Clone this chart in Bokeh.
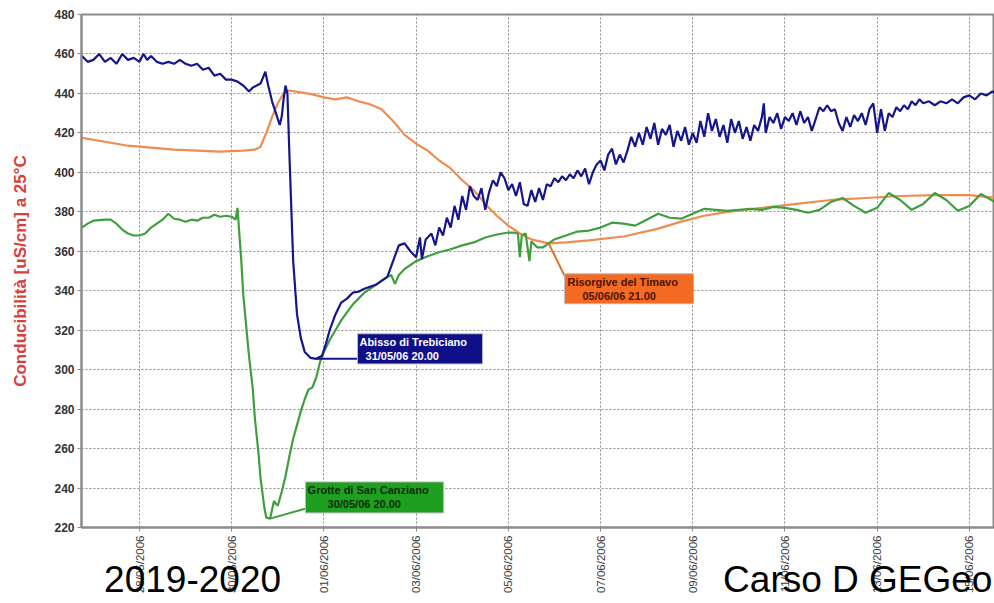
import math
import pandas as pd
from bokeh.plotting import figure
from bokeh.models import FixedTicker, DatetimeTickFormatter, Range1d
from bokeh.core.properties import value
from bokeh.embed import file_html
from bokeh.resources import INLINE

# ---------------- data ----------------
blue_time = [
    "2006-05-26 18:00", "2006-05-26 21:00", "2006-05-27 00:00", "2006-05-27 03:00", "2006-05-27 06:00",
    "2006-05-27 09:00", "2006-05-27 12:00", "2006-05-27 15:00", "2006-05-27 18:00", "2006-05-27 21:00",
    "2006-05-28 00:00", "2006-05-28 02:00", "2006-05-28 04:00", "2006-05-28 06:00", "2006-05-28 09:00",
    "2006-05-28 12:00", "2006-05-28 15:00", "2006-05-28 18:00", "2006-05-28 21:00", "2006-05-29 00:00",
    "2006-05-29 03:00", "2006-05-29 06:00", "2006-05-29 09:00", "2006-05-29 12:00", "2006-05-29 15:00",
    "2006-05-29 18:00", "2006-05-29 21:00", "2006-05-30 00:00", "2006-05-30 03:00", "2006-05-30 06:00",
    "2006-05-30 09:00", "2006-05-30 11:00", "2006-05-30 13:00", "2006-05-30 15:00", "2006-05-30 17:30",
    "2006-05-30 19:00", "2006-05-30 21:00", "2006-05-30 23:00", "2006-05-31 01:00", "2006-05-31 02:00",
    "2006-05-31 03:00", "2006-05-31 04:00", "2006-05-31 05:00", "2006-05-31 06:00", "2006-05-31 08:00",
    "2006-05-31 10:00", "2006-05-31 12:00", "2006-05-31 14:00", "2006-05-31 17:00", "2006-05-31 20:00",
    "2006-05-31 23:00", "2006-06-01 01:00", "2006-06-01 03:00", "2006-06-01 06:00", "2006-06-01 09:00",
    "2006-06-01 12:00", "2006-06-01 15:00", "2006-06-01 18:00", "2006-06-01 21:00", "2006-06-02 00:00",
    "2006-06-02 03:00", "2006-06-02 06:00", "2006-06-02 09:00", "2006-06-02 12:00", "2006-06-02 15:00",
    "2006-06-02 18:00", "2006-06-02 21:00", "2006-06-03 00:00", "2006-06-03 02:00", "2006-06-03 03:00",
    "2006-06-03 05:00", "2006-06-03 08:00", "2006-06-03 10:00", "2006-06-03 12:00", "2006-06-03 14:00",
    "2006-06-03 16:00", "2006-06-03 18:00", "2006-06-03 20:00", "2006-06-03 22:00", "2006-06-04 00:00",
    "2006-06-04 02:00", "2006-06-04 04:00", "2006-06-04 06:00", "2006-06-04 08:00", "2006-06-04 10:00",
    "2006-06-04 12:00", "2006-06-04 14:00", "2006-06-04 16:00", "2006-06-04 18:00", "2006-06-04 20:00",
    "2006-06-04 22:00", "2006-06-05 00:00", "2006-06-05 02:00", "2006-06-05 04:00", "2006-06-05 06:00",
    "2006-06-05 08:00", "2006-06-05 10:00", "2006-06-05 12:00", "2006-06-05 14:00", "2006-06-05 16:00",
    "2006-06-05 18:00", "2006-06-05 20:00", "2006-06-05 22:00", "2006-06-06 00:00", "2006-06-06 02:00",
    "2006-06-06 04:00", "2006-06-06 06:00", "2006-06-06 08:00", "2006-06-06 10:00", "2006-06-06 12:00",
    "2006-06-06 14:00", "2006-06-06 16:00", "2006-06-06 18:00", "2006-06-06 20:00", "2006-06-06 22:00",
    "2006-06-07 00:00", "2006-06-07 02:00", "2006-06-07 04:00", "2006-06-07 06:00", "2006-06-07 08:00",
    "2006-06-07 10:00", "2006-06-07 12:00", "2006-06-07 14:00", "2006-06-07 16:00", "2006-06-07 18:00",
    "2006-06-07 20:00", "2006-06-07 22:00", "2006-06-08 00:00", "2006-06-08 02:00", "2006-06-08 04:00",
    "2006-06-08 06:00", "2006-06-08 08:00", "2006-06-08 10:00", "2006-06-08 12:00", "2006-06-08 14:00",
    "2006-06-08 16:00", "2006-06-08 18:00", "2006-06-08 20:00", "2006-06-08 22:00", "2006-06-09 00:00",
    "2006-06-09 02:00", "2006-06-09 04:00", "2006-06-09 06:00", "2006-06-09 08:00", "2006-06-09 10:00",
    "2006-06-09 12:00", "2006-06-09 14:00", "2006-06-09 16:00", "2006-06-09 18:00", "2006-06-09 20:00",
    "2006-06-09 22:00", "2006-06-10 00:00", "2006-06-10 02:00", "2006-06-10 04:00", "2006-06-10 06:00",
    "2006-06-10 08:00", "2006-06-10 10:00", "2006-06-10 12:00", "2006-06-10 13:00", "2006-06-10 14:00",
    "2006-06-10 16:00", "2006-06-10 18:00", "2006-06-10 20:00", "2006-06-10 22:00", "2006-06-11 00:00",
    "2006-06-11 02:00", "2006-06-11 04:00", "2006-06-11 06:00", "2006-06-11 08:00", "2006-06-11 10:00",
    "2006-06-11 12:00", "2006-06-11 14:00", "2006-06-11 16:00", "2006-06-11 18:00", "2006-06-11 20:00",
    "2006-06-11 22:00", "2006-06-12 00:00", "2006-06-12 02:00", "2006-06-12 04:00", "2006-06-12 06:00",
    "2006-06-12 08:00", "2006-06-12 10:00", "2006-06-12 12:00", "2006-06-12 14:00", "2006-06-12 16:00",
    "2006-06-12 18:00", "2006-06-12 20:00", "2006-06-12 22:00", "2006-06-13 00:00", "2006-06-13 02:00",
    "2006-06-13 04:00", "2006-06-13 06:00", "2006-06-13 08:00", "2006-06-13 10:00", "2006-06-13 12:00",
    "2006-06-13 14:00", "2006-06-13 16:00", "2006-06-13 18:00", "2006-06-13 20:00", "2006-06-13 22:00",
    "2006-06-14 00:00", "2006-06-14 03:00", "2006-06-14 06:00", "2006-06-14 09:00", "2006-06-14 12:00",
    "2006-06-14 15:00", "2006-06-14 18:00", "2006-06-14 21:00", "2006-06-15 00:00", "2006-06-15 03:00",
    "2006-06-15 06:00", "2006-06-15 09:00", "2006-06-15 12:00", "2006-06-15 15:00",
]
blue_val = [
    459, 456, 457, 460, 456,
    458, 455, 460, 457, 458,
    456, 460, 457, 459, 456,
    455, 456, 455, 457, 455,
    454, 455, 452, 453, 449,
    450, 447, 447, 446, 444,
    441, 443, 444, 445, 451,
    444, 436, 430, 424, 428,
    437, 444, 440, 410, 355,
    328, 316, 309, 306, 305.5,
    307, 313, 320, 328, 334,
    336, 339, 339.5, 341, 342,
    343, 345, 347, 355, 363,
    364, 360, 357, 367, 356,
    366, 369, 363, 372, 368,
    377, 372, 383, 376, 388,
    381, 393, 388, 386, 392,
    381, 390, 396, 393, 400,
    397, 391, 394, 388, 395,
    384, 383, 391, 385, 392,
    386, 394, 393, 397, 395,
    398, 396, 399, 397, 401,
    398, 402, 394, 400, 404,
    406, 401, 409, 412, 404,
    409, 405, 411, 418, 413,
    420, 414, 423, 417, 425,
    414, 422, 419, 424, 413,
    421, 416, 423, 414, 420,
    415, 426, 418, 430, 421,
    427, 418, 424, 415, 427,
    420, 426, 417, 423, 416,
    424, 421, 428, 435, 420,
    428, 425, 430, 422, 428,
    426, 430, 424, 431, 425,
    428, 421, 427, 433, 431,
    434, 431, 432, 425, 421,
    428, 423, 429, 426, 430,
    424, 432, 435, 420, 432,
    421, 430, 428, 433, 431,
    434, 432, 436, 434, 437,
    435, 436, 434, 436, 435,
    437, 435, 438, 439, 437,
    440, 439, 441, 439,
]

orange_time = [
    "2006-05-26 18:00", "2006-05-27 06:00", "2006-05-27 18:00", "2006-05-28 06:00", "2006-05-28 18:00",
    "2006-05-29 06:00", "2006-05-29 18:00", "2006-05-30 06:00", "2006-05-30 12:00", "2006-05-30 15:00",
    "2006-05-30 18:00", "2006-05-30 21:00", "2006-05-31 00:00", "2006-05-31 03:00", "2006-05-31 06:00",
    "2006-05-31 12:00", "2006-05-31 18:00", "2006-06-01 00:00", "2006-06-01 06:00", "2006-06-01 12:00",
    "2006-06-01 18:00", "2006-06-02 00:00", "2006-06-02 06:00", "2006-06-02 12:00", "2006-06-02 18:00",
    "2006-06-03 00:00", "2006-06-03 06:00", "2006-06-03 12:00", "2006-06-03 18:00", "2006-06-04 00:00",
    "2006-06-04 06:00", "2006-06-04 12:00", "2006-06-04 18:00", "2006-06-05 00:00", "2006-06-05 06:00",
    "2006-06-05 12:00", "2006-06-05 21:00", "2006-06-06 06:00", "2006-06-06 18:00", "2006-06-07 12:00",
    "2006-06-08 06:00", "2006-06-08 18:00", "2006-06-09 06:00", "2006-06-09 18:00", "2006-06-10 12:00",
    "2006-06-11 06:00", "2006-06-12 00:00", "2006-06-12 18:00", "2006-06-13 12:00", "2006-06-14 06:00",
    "2006-06-15 00:00", "2006-06-15 15:00",
]
orange_val = [
    417.5, 415.5, 413.5, 412.5, 411.5,
    411, 410.5, 411, 411.5, 413,
    420, 428, 435, 440, 441.5,
    440.5, 439.5, 438, 437, 438,
    436, 434.5, 432, 426, 419,
    414.5, 411, 406, 402, 396,
    391, 384, 378, 373, 369,
    366, 364, 364.5, 365.5, 367.5,
    371.5, 375, 378, 380, 382,
    384, 386, 387, 388, 388.5,
    388.5, 387,
]

green_time = [
    "2006-05-26 18:00", "2006-05-26 21:00", "2006-05-27 00:00", "2006-05-27 06:00", "2006-05-27 09:00",
    "2006-05-27 12:00", "2006-05-27 15:00", "2006-05-27 18:00", "2006-05-27 21:00", "2006-05-28 00:00",
    "2006-05-28 03:00", "2006-05-28 06:00", "2006-05-28 09:00", "2006-05-28 12:00", "2006-05-28 15:00",
    "2006-05-28 18:00", "2006-05-28 21:00", "2006-05-29 00:00", "2006-05-29 03:00", "2006-05-29 06:00",
    "2006-05-29 09:00", "2006-05-29 12:00", "2006-05-29 15:00", "2006-05-29 18:00", "2006-05-29 21:00",
    "2006-05-30 00:00", "2006-05-30 02:00", "2006-05-30 03:00", "2006-05-30 05:00", "2006-05-30 06:00",
    "2006-05-30 09:00", "2006-05-30 11:00", "2006-05-30 12:00", "2006-05-30 14:00", "2006-05-30 15:00",
    "2006-05-30 17:00", "2006-05-30 18:00", "2006-05-30 20:00", "2006-05-30 21:00", "2006-05-30 22:00",
    "2006-05-30 23:00", "2006-05-31 00:00", "2006-05-31 02:00", "2006-05-31 04:00", "2006-05-31 06:00",
    "2006-05-31 08:00", "2006-05-31 10:00", "2006-05-31 12:00", "2006-05-31 14:00", "2006-05-31 16:00",
    "2006-05-31 18:00", "2006-05-31 20:00", "2006-05-31 22:00", "2006-06-01 00:00", "2006-06-01 03:00",
    "2006-06-01 06:00", "2006-06-01 09:00", "2006-06-01 12:00", "2006-06-01 15:00", "2006-06-01 18:00",
    "2006-06-01 21:00", "2006-06-02 00:00", "2006-06-02 03:00", "2006-06-02 06:00", "2006-06-02 09:00",
    "2006-06-02 11:00", "2006-06-02 13:00", "2006-06-02 15:00", "2006-06-02 18:00", "2006-06-03 00:00",
    "2006-06-03 06:00", "2006-06-03 12:00", "2006-06-03 18:00", "2006-06-04 00:00", "2006-06-04 06:00",
    "2006-06-04 12:00", "2006-06-04 18:00", "2006-06-05 00:00", "2006-06-05 03:00", "2006-06-05 05:00",
    "2006-06-05 06:00", "2006-06-05 07:00", "2006-06-05 09:00", "2006-06-05 10:00", "2006-06-05 11:00",
    "2006-06-05 12:00", "2006-06-05 15:00", "2006-06-05 18:00", "2006-06-05 21:00", "2006-06-06 00:00",
    "2006-06-06 06:00", "2006-06-06 12:00", "2006-06-06 18:00", "2006-06-07 00:00", "2006-06-07 06:00",
    "2006-06-07 12:00", "2006-06-07 18:00", "2006-06-08 00:00", "2006-06-08 06:00", "2006-06-08 12:00",
    "2006-06-08 18:00", "2006-06-09 00:00", "2006-06-09 06:00", "2006-06-09 12:00", "2006-06-09 18:00",
    "2006-06-10 00:00", "2006-06-10 06:00", "2006-06-10 12:00", "2006-06-10 18:00", "2006-06-11 00:00",
    "2006-06-11 06:00", "2006-06-11 12:00", "2006-06-11 18:00", "2006-06-12 00:00", "2006-06-12 06:00",
    "2006-06-12 12:00", "2006-06-12 18:00", "2006-06-13 00:00", "2006-06-13 06:00", "2006-06-13 12:00",
    "2006-06-13 18:00", "2006-06-14 00:00", "2006-06-14 06:00", "2006-06-14 12:00", "2006-06-14 18:00",
    "2006-06-15 00:00", "2006-06-15 06:00", "2006-06-15 15:00",
]
green_val = [
    372, 374, 375.5, 376, 376,
    374, 371, 369, 368, 368,
    369, 372, 374, 376, 379,
    376.5, 376, 375, 376, 375.5,
    377, 377, 378.5, 377.5, 378,
    377.5, 376, 382, 355, 338,
    307, 290, 276, 257, 245,
    230, 225, 224.5, 229, 233.5,
    232, 231, 238, 246, 256,
    265, 272, 279, 285, 290,
    291, 296, 304, 309, 315,
    320, 325, 329, 333, 336,
    339, 341, 343, 345, 347,
    348, 343.5, 348, 351, 355,
    357.5, 359.5, 361, 363, 364.5,
    367, 368.5, 369.5, 369.4, 369,
    357, 368, 369, 362, 355,
    365, 362, 362, 364, 366,
    368, 370, 370.5, 372, 374.5,
    374, 373, 376, 379, 377,
    376.5, 379, 381.5, 381, 380.5,
    381, 381.5, 381, 382.5, 382,
    381, 379.5, 381, 385, 387,
    383, 379.5, 382, 389.5, 386,
    381, 384, 389.5, 386, 380.5,
    383, 389, 384,
]

series_names = ["Abisso di Trebiciano", "Grotte di San Canziano", "Risorgive del Timavo"]
callout_dates = ["31/05/06 20.00", "30/05/06 20.00", "05/06/06 21.00"]
x_tick_dates = ["2006-05-28", "2006-05-30", "2006-06-01", "2006-06-03", "2006-06-05",
                "2006-06-07", "2006-06-09", "2006-06-11", "2006-06-13", "2006-06-15"]
y_ticks = [220, 240, 260, 280, 300, 320, 340, 360, 380, 400, 420, 440, 460, 480]
y_title = "Conducibilità [uS/cm] a 25°C"
footer_left = "2019-2020"
footer_right = "Carso D GEGeo"


def ms(s):
    return pd.Timestamp(s).value / 1e6


FONT = "Liberation Sans"
BLUE, ORANGE, GREEN = "#16168c", "#f08c50", "#3f9f3f"

p = figure(width=994, height=603, output_backend="svg", toolbar_location=None,
           x_axis_type="datetime",
           x_range=Range1d(ms("2006-05-26 17:48"), ms("2006-06-15 13:06")),
           y_range=Range1d(220, 480),
           min_border_left=81, min_border_right=0, min_border_top=14, min_border_bottom=76)
p.background_fill_color = "white"
p.border_fill_color = "white"
p.outline_line_color = "#8c8c8c"
p.outline_line_width = 2

# grid
for g in (p.xgrid, p.ygrid):
    g.grid_line_color = "#8a8a8a"
    g.grid_line_dash = "2 2"
    g.grid_line_width = 1

# axes
p.xaxis.ticker = FixedTicker(ticks=[ms(d) for d in x_tick_dates])
fmt = "%d/%m/%Y"
p.xaxis.formatter = DatetimeTickFormatter(milliseconds=fmt, seconds=fmt, minsec=fmt, minutes=fmt,
                                          hourmin=fmt, hours=fmt, days=fmt, months=fmt, years=fmt)
p.xaxis.major_label_orientation = math.pi / 2
p.xaxis.major_label_text_font = FONT
p.xaxis.major_label_text_font_size = "11.5px"
p.xaxis.major_label_text_color = "#3c3c3c"
p.xaxis.major_tick_out = 4
p.xaxis.major_tick_in = 0
p.xaxis.minor_tick_line_color = None
p.xaxis.major_label_standoff = 4
p.xaxis.axis_line_color = "#8c8c8c"
p.xaxis.axis_line_width = 2
p.xaxis.major_tick_line_color = "#8c8c8c"
# slide footer, drawn as the x-axis label so that it may overlap the tick labels
p.xaxis.axis_label = "\u00a0" * 2 + footer_left + "\u00a0" * 43 + footer_right
p.xaxis.axis_label_text_font = FONT
p.xaxis.axis_label_text_font_style = "normal"
p.xaxis.axis_label_text_font_size = "37px"
p.xaxis.axis_label_text_color = "black"
p.xaxis.axis_label_standoff = -37

p.yaxis.ticker = FixedTicker(ticks=y_ticks)
p.yaxis.major_label_text_font = FONT
p.yaxis.major_label_text_font_style = "bold"
p.yaxis.major_label_text_font_size = "12px"
p.yaxis.major_label_text_color = "#333333"
p.yaxis.major_tick_out = 4
p.yaxis.major_tick_in = 0
p.yaxis.minor_tick_line_color = None
p.yaxis.major_label_standoff = 3
p.yaxis.axis_line_color = "#8c8c8c"
p.yaxis.axis_line_width = 2
p.yaxis.major_tick_line_color = "#8c8c8c"
p.yaxis.axis_label = y_title
p.yaxis.axis_label_text_font = FONT
p.yaxis.axis_label_text_font_style = "bold"
p.yaxis.axis_label_text_font_size = "17px"
p.yaxis.axis_label_text_color = "#d8403a"
p.yaxis.axis_label_standoff = 21

# series
series = [
    (pd.to_datetime(orange_time), orange_val, ORANGE),
    (pd.to_datetime(green_time), green_val, GREEN),
    (pd.to_datetime(blue_time), blue_val, BLUE),
]
for t, v, c in series:
    p.line(x=t, y=v, line_color=c, line_width=2.2)

# callouts
callouts = [
    (blue_time, blue_val, series_names[0], callout_dates[0], "#0f0f8a", "white", BLUE,
     ("2006-06-01 17:30", "2006-06-04 10:36", 302.9, 318.2),
     ("2006-06-01 18:30", 314.1), ("2006-06-01 21:40", 307.0), ("2006-06-01 17:30", 305.5)),
    (green_time, green_val, series_names[1], callout_dates[1], "#1f9f1f", "#0b2d0b", GREEN,
     ("2006-05-31 14:24", "2006-06-03 14:18", 227.4, 243.1),
     ("2006-05-31 15:30", 239.0), ("2006-06-01 01:54", 232.0), ("2006-05-31 15:30", 229.9)),
    (orange_time, orange_val, series_names[2], callout_dates[2], "#f56a22", "#4a1400", "#e0702a",
     ("2006-06-06 05:18", "2006-06-09 00:24", 333.4, 348.6),
     ("2006-06-06 06:48", 344.5), ("2006-06-06 14:36", 337.4), ("2006-06-06 05:48", 346.6)),
]
for t, v, name, date, fill, tcol, lcol, box, pos1, pos2, lend in callouts:
    i = min(range(len(v)), key=lambda k: v[k])
    p.line(x=[ms(t[i]), ms(lend[0])], y=[v[i], lend[1]], line_color=lcol, line_width=2)
    p.quad(left=[ms(box[0])], right=[ms(box[1])], bottom=[box[2]], top=[box[3]],
           fill_color=fill, line_color="#bbbbbb", line_width=1)
    p.text(x=[ms(pos1[0])], y=[pos1[1]], text=[name], text_color=tcol,
           text_font=value(FONT), text_font_style="bold", text_font_size="11px",
           text_align="left", text_baseline="middle")
    p.text(x=[ms(pos2[0])], y=[pos2[1]], text=[date], text_color=tcol,
           text_font=value(FONT), text_font_style="bold", text_font_size="11px",
           text_align="left", text_baseline="middle")

open("out.html", "w").write(file_html(p, INLINE))
